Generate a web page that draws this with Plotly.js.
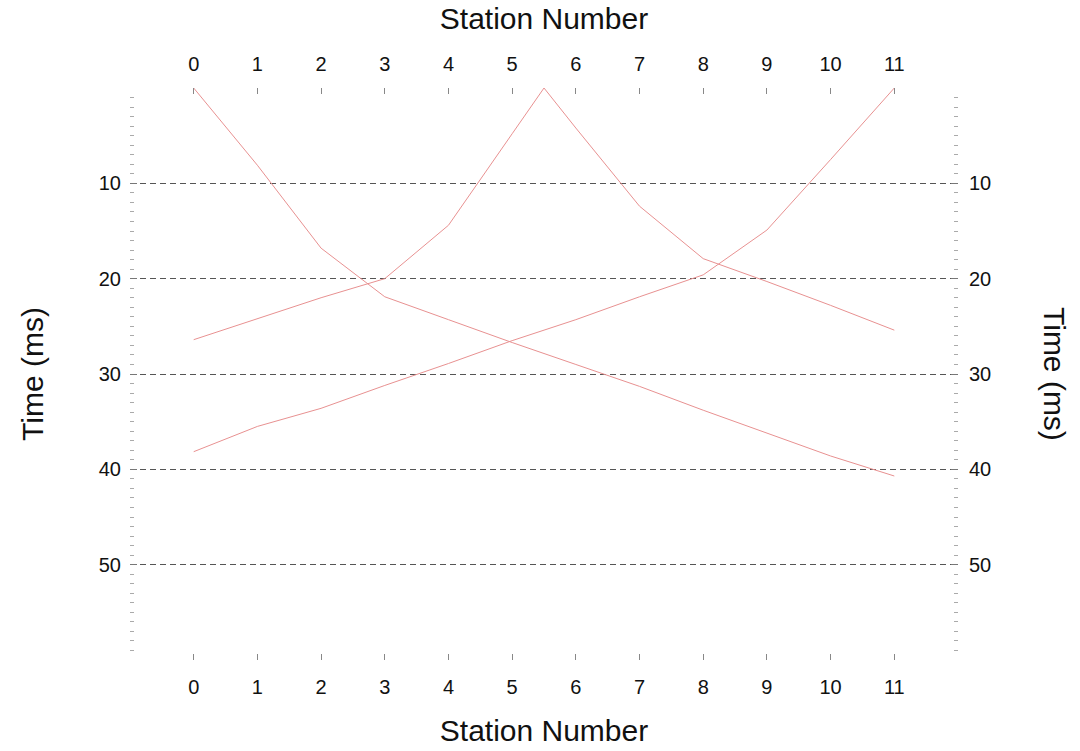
<!DOCTYPE html>
<html>
<head>
<meta charset="utf-8">
<script src="https://cdn.plot.ly/plotly-3.0.1.min.js"></script>
<style>
  html, body { margin: 0; padding: 0; background: #fff; }
  #chart { width: 1080px; height: 751px; }
</style>
</head>
<body>
<div id="chart"></div>
<script>
// Station positions (geophone numbers)
const stations = [0, 1, 2, 3, 4, 5, 6, 7, 8, 9, 10, 11];

// First-arrival times (ms) for a shot at station 0
const shotAt0 = [0, 8.1, 16.8, 21.9, 24.3, 26.7, 29.0, 31.3, 33.8, 36.2, 38.6, 40.7];

// Mid-spread shot between stations 5 and 6
const midStations = [0, 1, 2, 3, 4, 5, 5.5, 6, 7, 8, 9, 10, 11];
const shotMid = [26.4, 24.2, 22.0, 20.0, 14.4, 4.8, 0, 4.2, 12.4, 17.9, 20.3, 22.8, 25.4];

// Shot at station 11
const shotAt11 = [38.15, 35.5, 33.6, 31.2, 28.9, 26.5, 24.3, 21.9, 19.6, 14.9, 7.5, 0];

// Axis ticks and labels
const xTickVals = [-1, 0, 1, 2, 3, 4, 5, 6, 7, 8, 9, 10, 11, 12];
const xTickText = ['', '0', '1', '2', '3', '4', '5', '6', '7', '8', '9', '10', '11', ''];
const yTickVals = [10, 20, 30, 40, 50];
const yTickText = ['10', '20', '30', '40', '50'];

const lineStyle = { color: 'rgb(232,145,145)', width: 1 };
const font = 'Liberation Sans, Arial, sans-serif';
const titleSize = 30;
const tickSize = 20;

const traces = [
  { x: stations, y: shotAt0, mode: 'lines', line: lineStyle, xaxis: 'x', yaxis: 'y', hoverinfo: 'skip' },
  { x: midStations, y: shotMid, mode: 'lines', line: lineStyle, xaxis: 'x', yaxis: 'y', hoverinfo: 'skip' },
  { x: stations, y: shotAt11, mode: 'lines', line: lineStyle, xaxis: 'x', yaxis: 'y', hoverinfo: 'skip' },
  // invisible trace so the top/right mirror axes are instantiated
  { x: stations, y: shotAt0, mode: 'lines', line: { width: 0 }, opacity: 0, xaxis: 'x2', yaxis: 'y2', hoverinfo: 'skip' }
];

const xCommon = {
  range: [-1, 12],
  tickmode: 'array',
  tickvals: xTickVals,
  ticktext: xTickText,
  ticks: 'inside',
  ticklen: 6,
  tickcolor: '#888',
  showgrid: false,
  zeroline: false,
  showline: false,
  tickfont: { family: font, size: tickSize, color: '#111' }
};

const yCommon = {
  range: [60, 0],
  tickmode: 'array',
  tickvals: yTickVals,
  ticktext: yTickText,
  ticks: 'inside',
  ticklen: 7,
  tickcolor: '#777',
  showgrid: true,
  gridcolor: '#555',
  gridwidth: 1,
  griddash: '6px,4px',
  zeroline: false,
  showline: false,
  minor: { dtick: 1, tick0: 0, ticks: 'inside', ticklen: 4, tickcolor: '#aaa', showgrid: false },
  tickfont: { family: font, size: tickSize, color: '#111' }
};

const layout = {
  width: 1080,
  height: 751,
  margin: { l: 130, r: 122, t: 88, b: 91 },
  paper_bgcolor: '#fff',
  plot_bgcolor: '#fff',
  showlegend: false,
  xaxis: Object.assign({}, xCommon, {
    side: 'bottom', ticklabelstandoff: 13,
    title: { text: 'Station Number', font: { family: font, size: titleSize, color: '#111' }, standoff: 22 }
  }),
  xaxis2: Object.assign({}, xCommon, {
    side: 'top', overlaying: 'x', anchor: 'y', ticklabelstandoff: 12,
    title: { text: 'Station Number', font: { family: font, size: titleSize, color: '#111' }, standoff: 14 }
  }),
  yaxis: Object.assign({}, yCommon, {
    side: 'left',
    ticklabelstandoff: 8,
    title: { text: 'Time (ms)', font: { family: font, size: titleSize, color: '#111' }, standoff: 46 }
  }),
  yaxis2: Object.assign({}, yCommon, { side: 'right', overlaying: 'y', anchor: 'x', showgrid: false, ticklabelstandoff: 10 }),
  annotations: [{
    text: 'Time (ms)',
    xref: 'paper', yref: 'paper',
    x: 1, y: 0.5,
    xanchor: 'center', yanchor: 'middle',
    xshift: 97,
    textangle: 90,
    showarrow: false,
    font: { family: font, size: titleSize, color: '#111' }
  }]
};

Plotly.newPlot('chart', traces, layout, { staticPlot: true, displayModeBar: false });
</script>
</body>
</html>
